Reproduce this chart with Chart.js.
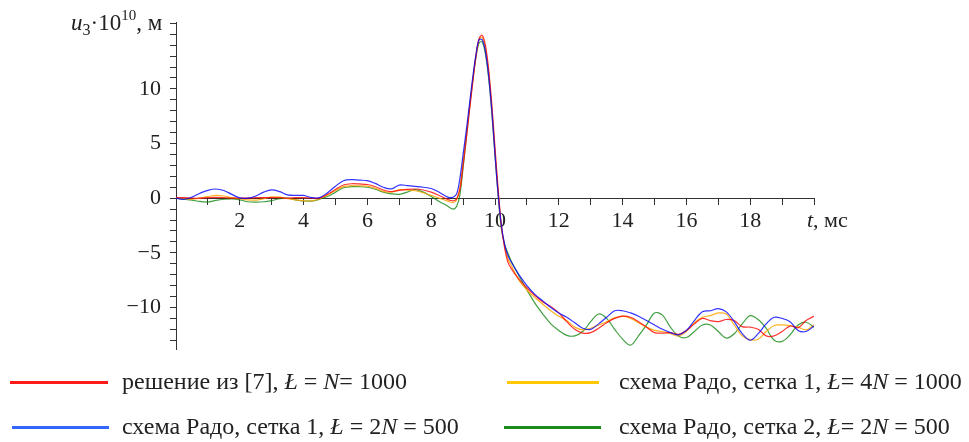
<!DOCTYPE html>
<html>
<head>
<meta charset="utf-8">
<script src="https://cdn.jsdelivr.net/npm/chart.js@4.4.0/dist/chart.umd.min.js"></script>
<style>
  body { margin: 0; background: #fff; }
  #wrap { position: relative; width: 969px; height: 442px; }
  .leg { position: absolute; font: 24px "Liberation Serif", serif; color: #222; white-space: nowrap; line-height: 24px; }
  .sw { position: absolute; height: 3px; }
</style>
</head>
<body>
<div id="wrap">
  <canvas id="chart" width="969" height="442"></canvas>
  <div class="sw" style="left:10px;top:381px;width:98px;background:#ff1a1a"></div>
  <div class="leg" style="left:122px;top:369px">решение из [7], <i>Ł</i> = <i>N</i>= 1000</div>
  <div class="sw" style="left:12px;top:426px;width:97px;background:#3366ff"></div>
  <div class="leg" style="left:122px;top:414px">схема Радо, сетка 1, <i>Ł</i> = 2<i>N</i> = 500</div>
  <div class="sw" style="left:507px;top:381px;width:92px;background:#ffc800"></div>
  <div class="leg" style="left:619px;top:369px">схема Радо, сетка 1, <i>Ł</i>= 4<i>N</i> = 1000</div>
  <div class="sw" style="left:504px;top:426px;width:97px;background:#1a8a1a"></div>
  <div class="leg" style="left:619px;top:414px">схема Радо, сетка 2, <i>Ł</i>= 2<i>N</i> = 500</div>
</div>
<script>
// time, ms
var tValues = [
  0, 0.25, 0.5, 0.75, 1, 1.25, 1.5, 1.75, 2, 2.25, 2.5, 2.75, 3, 3.25, 3.5, 3.75, 4, 4.25, 4.5,
  4.75, 5, 5.25, 5.5, 5.75, 6, 6.25, 6.5, 6.75, 7, 7.25, 7.5, 7.75, 8, 8.25, 8.5,
  8.6, 8.7, 8.8, 8.9, 9, 9.1, 9.2, 9.3, 9.4, 9.5, 9.6, 9.7, 9.8, 9.9, 10, 10.1, 10.2, 10.3, 10.4,
  10.5, 10.75, 11, 11.25, 11.5, 11.75, 12, 12.25, 12.5, 12.75, 13, 13.25, 13.5, 13.75, 14, 14.25,
  14.5, 14.75, 15, 15.25, 15.5, 15.75, 16, 16.25, 16.5, 16.75, 17, 17.25, 17.5, 17.75, 18, 18.25,
  18.5, 18.75, 19, 19.25, 19.5, 19.75, 20
];

// решение из [7]
var redValues = [
  0.05, 0.05, 0, 0, 0.05, 0.08, 0.05, 0, 0, 0, 0.05, 0.05, 0.05, 0.05, 0, 0.05, 0.05, 0, 0,
  0.35, 0.8, 1.2, 1.32, 1.3, 1.25, 1.05, 0.75, 0.6, 0.72, 0.8, 0.84, 0.75, 0.55, 0.25, -0.1,
  -0.2, -0.24, -0.05, 0.8, 3.0, 5.4, 8.0, 10.5, 12.9, 14.6, 14.9, 14.0, 11.8, 8.6, 4.6, 0.8, -2.5, -4.5, -5.8,
  -6.4, -7.4, -8.2, -8.9, -9.5, -9.9, -10.5, -11.3, -12.0, -12.35, -12.3, -11.9, -11.4, -11.0, -10.8, -10.9,
  -11.3, -11.8, -12.3, -12.35, -12.3, -12.45, -12.1, -11.5, -11.0, -11.2, -11.3, -11.1, -11.2, -11.75, -11.8, -12.0,
  -12.6, -12.6, -12.2, -11.7, -11.85, -11.2, -10.8
];

// схема Радо, сетка 1, 4N = 1000
var orangeValues = [
  0, -0.05, -0.1, 0, 0.15, 0.25, 0.2, 0.05, -0.05, -0.15, -0.18, -0.05, 0.12, 0.1, -0.05, -0.15, -0.22, -0.25, -0.05,
  0.3, 0.7, 1.05, 1.15, 1.12, 1.1, 0.9, 0.62, 0.55, 0.78, 0.75, 0.68, 0.5, 0.25, 0, -0.25,
  -0.35, -0.4, -0.15, 1.0, 3.4, 5.8, 8.3, 10.8, 13.0, 14.5, 14.7, 13.7, 11.5, 8.2, 4.3, 0.5, -2.6, -4.4, -5.5,
  -6.1, -7.5, -8.4, -9.1, -9.7, -10.3, -10.8, -11.2, -11.8, -12.05, -11.9, -11.6, -11.3, -10.95, -10.8, -11.0,
  -11.4, -11.8, -12.1, -12.2, -12.4, -12.6, -12.2, -11.4, -10.9, -10.75, -10.5, -10.6, -11.6, -12.6, -12.95, -12.9,
  -12.2, -11.65, -11.6, -11.65, -11.8, -12.05, -11.6
];

// схема Радо, сетка 2, 2N = 500
var greenValues = [
  0, -0.1, -0.18, -0.3, -0.35, -0.2, -0.1, -0.06, -0.15, -0.33, -0.36, -0.33, -0.22, -0.05, 0, -0.15, -0.25, -0.27, -0.1,
  0.15, 0.55, 0.95, 1.05, 1.05, 1.0, 0.82, 0.55, 0.4, 0.35, 0.55, 0.78, 0.55, 0.15, -0.3, -0.7,
  -0.9, -1.0, -0.75, 0.3, 2.8, 5.5, 8.2, 10.7, 12.8, 14.2, 14.3, 13.2, 11.0, 7.8, 3.9, 0.2, -2.8, -4.2, -5.0,
  -5.7, -7.1, -8.4, -9.6, -10.6, -11.5, -12.1, -12.55, -12.6, -12.2, -11.3, -10.6, -11.0, -12.0, -12.9, -13.45,
  -12.6, -11.6, -10.5, -10.7, -11.8, -12.6, -12.75, -12.2, -11.6, -11.6, -12.2, -12.8, -12.4, -11.5, -10.75, -11.1,
  -11.9, -13.0, -13.1, -12.5, -11.6, -11.35, -11.8
];

// схема Радо, сетка 1, 2N = 500
var blueValues = [
  0, -0.1, 0.1, 0.45, 0.72, 0.84, 0.7, 0.35, 0.02, 0, 0.2, 0.55, 0.75, 0.6, 0.3, 0.25, 0.25, 0.05, 0.05,
  0.5, 1.1, 1.6, 1.7, 1.65, 1.6, 1.35, 1.0, 0.85, 1.2, 1.15, 1.08, 1.0, 0.88, 0.55, 0.12,
  0.05, 0.1, 0.4, 1.8, 4.0, 6.2, 8.6, 11.0, 13.1, 14.5, 14.5, 13.4, 11.2, 8.0, 4.0, 0.3, -2.5, -4.2, -5.2,
  -5.8, -7.0, -8.0, -8.8, -9.4, -10.0, -10.5, -10.9, -11.4, -11.9, -12.0, -11.5, -10.9, -10.3, -10.3, -10.5,
  -10.8, -11.2, -11.6, -12.0, -12.3, -12.5, -12.1, -11.2, -10.4, -10.3, -10.1, -10.4, -11.3, -12.4, -13.0, -12.4,
  -11.5, -10.9, -11.0, -11.3, -12.1, -12.2, -11.7
];

var yLabelValues = [-10, -5, 0, 5, 10];
var xLabelValues = [2, 4, 6, 8, 10, 12, 14, 16, 18];

function pts(vals) {
  return tValues.map(function(t, i) { return { x: t, y: vals[i] }; });
}

var axisTitles = {
  id: "axisTitles",
  afterDraw: function(chart) {
    var c = chart.ctx;
    c.save();
    c.fillStyle = "#222";
    c.textBaseline = "alphabetic";
    var x = 71, base = 30;
    var parts = [
      ["italic 23px 'Liberation Serif'", "u", 0],
      ["16px 'Liberation Serif'", "3", 5],
      ["23px 'Liberation Serif'", "·10", 0],
      ["15px 'Liberation Serif'", "10", -10],
      ["23px 'Liberation Serif'", ", м", 0]
    ];
    parts.forEach(function(p) {
      c.font = p[0];
      c.fillText(p[1], x, base + p[2]);
      x += c.measureText(p[1]).width;
    });
    x = 807;
    c.font = "italic 22px 'Liberation Serif'";
    c.fillText("t", x, 227);
    x += c.measureText("t").width;
    c.font = "22px 'Liberation Serif'";
    c.fillText(", мс", x, 227);
    c.restore();
  }
};

document.addEventListener("DOMContentLoaded", function() {
  Chart.defaults.font.family = "'Liberation Serif', serif";
  Chart.defaults.font.size = 22;
  Chart.defaults.color = "#222";

  var ctx = document.getElementById("chart").getContext("2d");
  new Chart(ctx, {
    type: "line",
    data: {
      datasets: [
        { label: "схема Радо, сетка 1, 2N = 500", data: pts(blueValues), borderColor: "rgba(0,0,255,0.8)" },
        { label: "решение из [7]", data: pts(redValues), borderColor: "rgba(255,0,0,0.8)" },
        { label: "схема Радо, сетка 1, 4N = 1000", data: pts(orangeValues), borderColor: "rgba(255,165,0,0.85)" },
        { label: "схема Радо, сетка 2, 2N = 500", data: pts(greenValues), borderColor: "rgba(0,128,0,0.75)" }
      ]
    },
    options: {
      responsive: false,
      animation: false,
      layout: { padding: { left: 116, right: 155, top: 17, bottom: 93 } },
      elements: {
        point: { radius: 0 },
        line: { borderWidth: 1.2, tension: 0.35 }
      },
      plugins: { legend: { display: false }, tooltip: { enabled: false } },
      scales: {
        x: {
          type: "linear",
          min: 0,
          max: 20,
          position: { y: 0 },
          grid: { drawOnChartArea: false, drawTicks: true, tickLength: 6, color: "#333" },
          border: { color: "#333", width: 1 },
          ticks: {
            stepSize: 1,
            autoSkip: false,
            maxRotation: 0,
            padding: 4,
            callback: function(v) { return xLabelValues.indexOf(v) >= 0 ? String(v) : ""; }
          }
        },
        y: {
          type: "linear",
          min: -13.8,
          max: 16.1,
          position: "left",
          afterFit: function(scale) { scale.width = 60; },
          grid: { drawOnChartArea: false, drawTicks: true, tickLength: 6, color: "#333" },
          border: { color: "#333", width: 1 },
          ticks: {
            stepSize: 1,
            includeBounds: false,
            autoSkip: false,
            padding: 9,
            callback: function(v) {
              if (yLabelValues.indexOf(v) < 0) return "";
              return v < 0 ? "\u2212" + Math.abs(v) : String(v);
            }
          }
        }
      }
    },
    plugins: [axisTitles]
  });
});
</script>
</body>
</html>
